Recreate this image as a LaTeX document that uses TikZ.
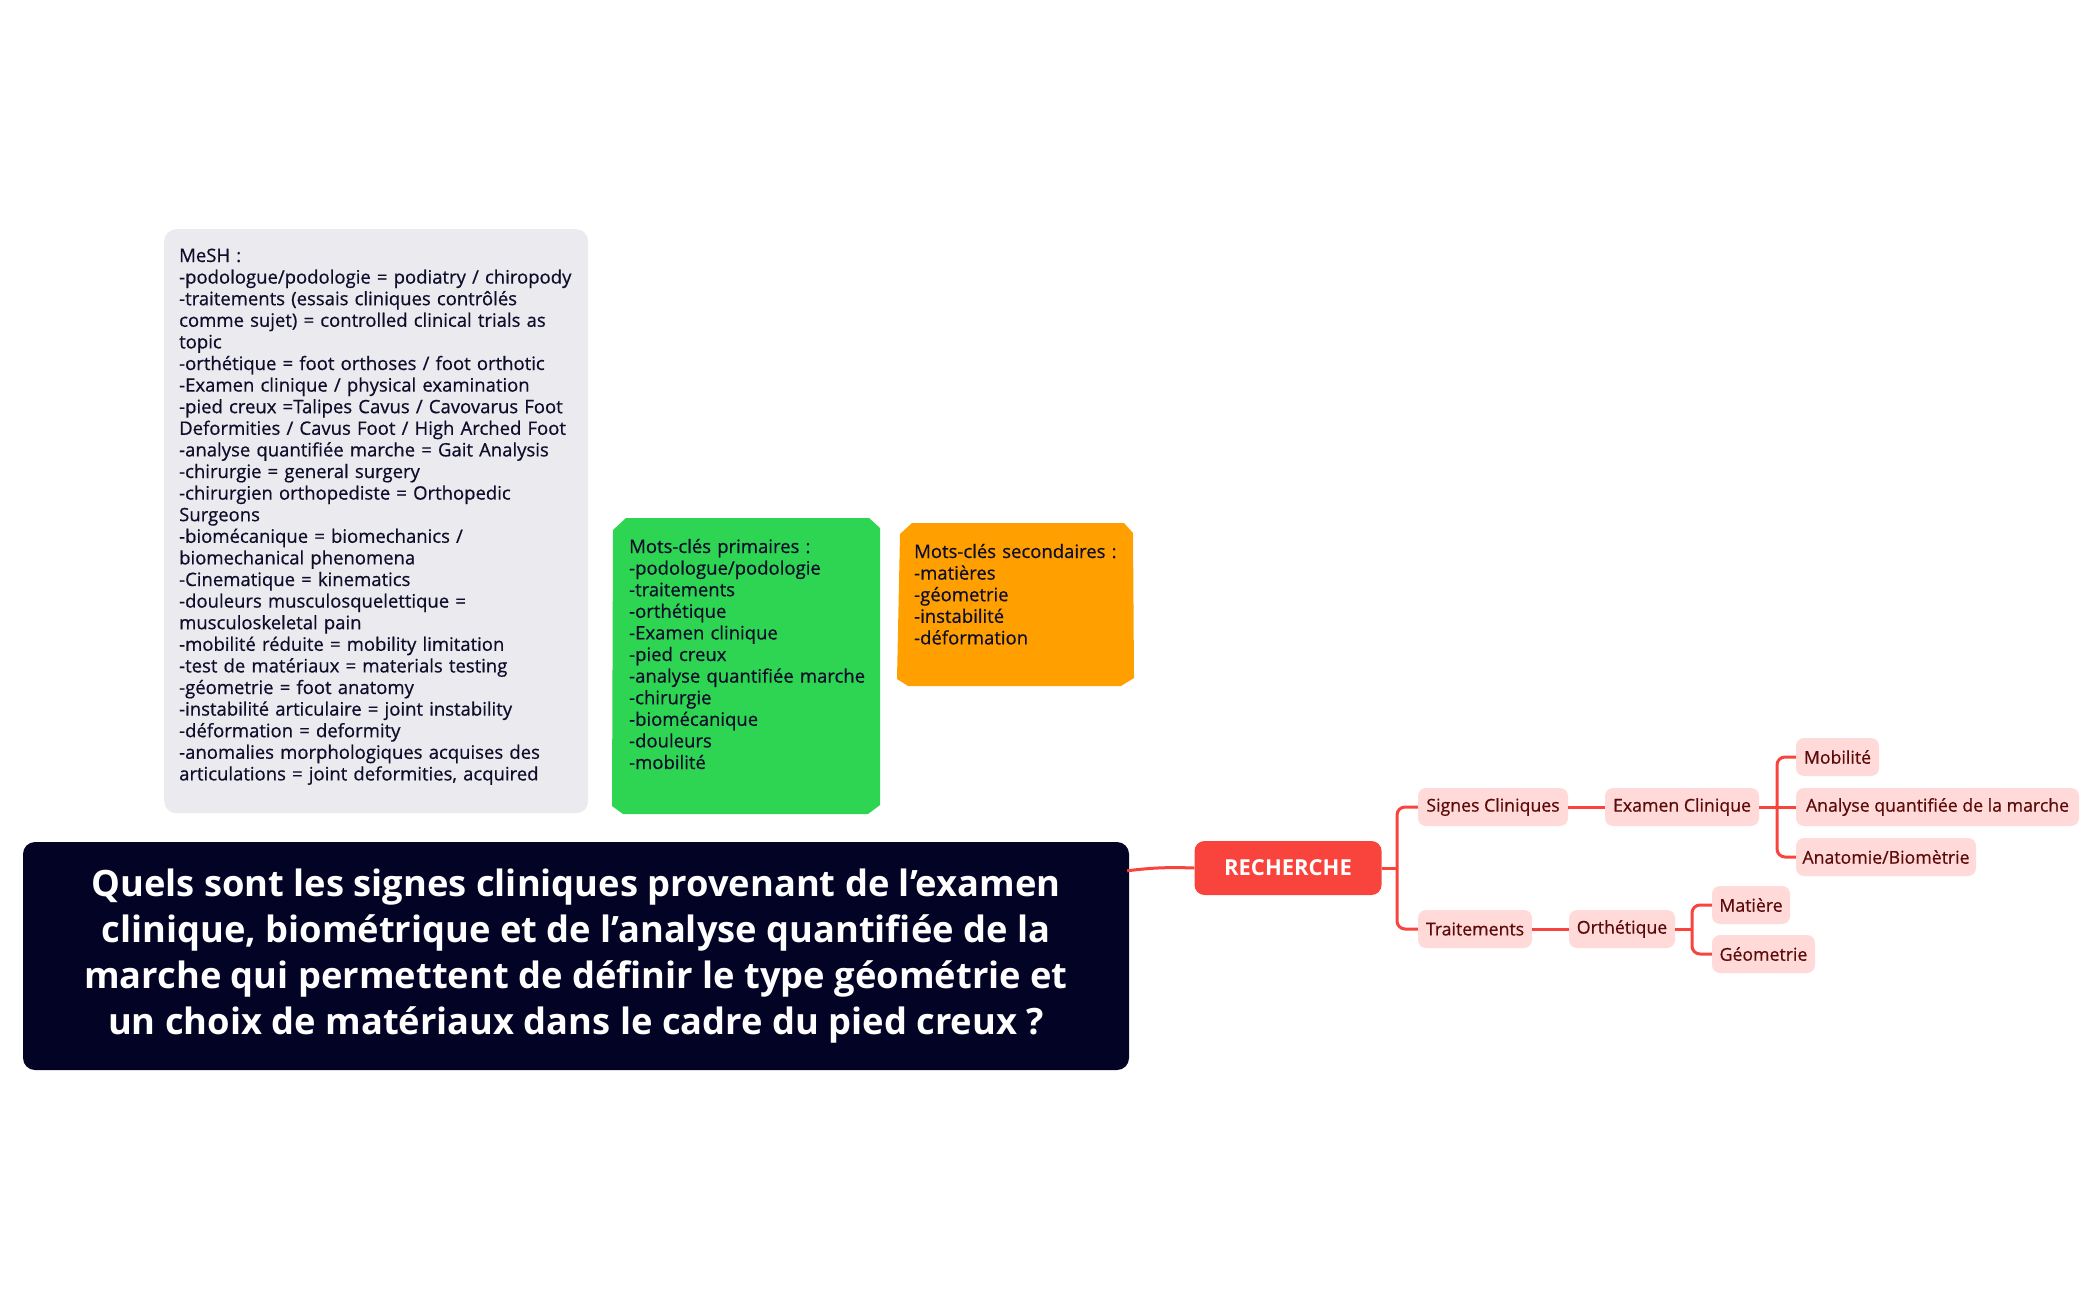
\documentclass[tikz,border=0pt]{standalone}
\usepackage{fontspec}
\setmainfont{Open Sans}
\newfontfamily\medfont{Open Sans}[FakeBold=0.6]
\usetikzlibrary{calc}
\definecolor{qnavy}{RGB}{3,3,38}
\definecolor{mmred}{RGB}{249,68,62}
\definecolor{leaffill}{RGB}{255,218,216}
\definecolor{leaftext}{RGB}{92,10,10}
\definecolor{meshgray}{RGB}{235,234,238}
\definecolor{kgreen}{RGB}{45,213,82}
\definecolor{korange}{RGB}{255,160,0}
\definecolor{boxtext}{RGB}{14,14,44}
\tikzset{
  conn/.style={draw=mmred, line width=3pt, rounded corners=8pt},
  leaf/.style={rectangle, rounded corners=8pt, fill=leaffill, text=leaftext,
    minimum height=38pt, inner xsep=6pt, inner ysep=0pt,
    font=\medfont\fontsize{17.7}{21}\selectfont},
  rootnode/.style={rectangle, rounded corners=10pt, fill=mmred, text=white,
    minimum height=54pt, minimum width=187pt, inner sep=0pt,
    font=\bfseries\fontsize{22}{27}\selectfont},
  question/.style={rectangle, rounded corners=12pt, fill=qnavy, text=white,
    minimum width=1106pt, minimum height=228pt, inner sep=0pt, align=center,
    font=\bfseries\fontsize{36.3}{46}\selectfont},
  boxtxt/.style={anchor=base west, inner sep=0pt, align=left, text=boxtext,
    font=\medfont\fontsize{18.5}{21.6}\selectfont},
}
\begin{document}
\begin{tikzpicture}[x=1pt,y=-1pt]
\useasboundingbox (0,0) rectangle (2099,1300);

% MeSH box
\node[rectangle, rounded corners=12pt, fill=meshgray, minimum width=424pt,
  minimum height=584pt, inner sep=0pt, anchor=north west] (mesh) at (164,229) {};
\node[boxtxt, text width=440pt] (meshtxt) at (179,262) {MeSH :\\
-podologue/podologie = podiatry / chiropody\\
-traitements (essais cliniques contrôlés\\
comme sujet) = controlled clinical trials as\\
topic\\
-orthétique = foot orthoses / foot orthotic\\
-Examen clinique / physical examination\\
-pied creux =Talipes Cavus / Cavovarus Foot\\
Deformities / Cavus Foot / High Arched Foot\\
-analyse quantifiée marche = Gait Analysis\\
-chirurgie = general surgery\\
-chirurgien orthopediste = Orthopedic\\
Surgeons\\
-biomécanique = biomechanics /\\
biomechanical phenomena\\
-Cinematique = kinematics\\
-douleurs musculosquelettique =\\
musculoskeletal pain\\
-mobilité réduite = mobility limitation\\
-test de matériaux = materials testing\\
-géometrie = foot anatomy\\
-instabilité articulaire = joint instability\\
-déformation = deformity\\
-anomalies morphologiques acquises des\\
articulations = joint deformities, acquired};

% primary keywords box
\fill[kgreen] (613,530) -- (626,518) -- (869,518) -- (880,528) -- (880,805)
  -- (868,814) -- (623,814) -- (612,806) -- cycle;
\node[boxtxt, text width=260pt] (prim) at (629,553) {Mots-clés primaires :\\
-podologue/podologie\\
-traitements\\
-orthétique\\
-Examen clinique\\
-pied creux\\
-analyse quantifiée marche\\
-chirurgie\\
-biomécanique\\
-douleurs\\
-mobilité};

% secondary keywords box
\fill[korange] (900,534) -- (912,523) -- (1124,523) -- (1133,533) -- (1134,678)
  -- (1121,686) -- (908,686) -- (897,679) -- cycle;
\node[boxtxt, text width=230pt] (sec) at (914,558) {Mots-clés secondaires :\\
-matières\\
-géometrie\\
-instabilité\\
-déformation};

% question
\node[question] (q) at (576,956) {Quels sont les signes cliniques provenant de l'examen\\
clinique, biométrique et de l'analyse quantifiée de la\\
marche qui permettent de définir le type géométrie et\\
un choix de matériaux dans le cadre du pied creux ?};

% mind map
\node[rootnode] (rech) at (1288,868) {RECHERCHE};
\node[leaf, minimum width=150pt] (signes) at (1493,807) {Signes Cliniques};
\node[leaf, minimum width=154pt] (exam) at (1682,807) {Examen Clinique};
\node[leaf, minimum width=83pt] (mob) at (1837.5,757) {Mobilité};
\node[leaf, minimum width=283pt] (ana) at (1937.5,807) {Analyse quantifiée de la marche};
\node[leaf, minimum width=180pt] (anat) at (1886,857) {Anatomie/Biomètrie};
\node[leaf, minimum width=114pt] (trait) at (1475,929) {Traitements};
\node[leaf, minimum width=106pt] (orth) at (1622,929) {Orthétique};
\node[leaf, minimum width=78pt] (mat) at (1751,905) {Matière};
\node[leaf, minimum width=103pt] (geo) at (1763.5,954) {Géometrie};

\coordinate (qout) at ($(q.north east)+(-2,29)$);
\coordinate (t1) at (1397,868);
\coordinate (t2) at (1777,807);
\coordinate (t3) at (1692,929);

\draw[conn] (qout) .. controls (1150,868) and (1165,867) .. (rech.west);
\draw[conn, rounded corners=0pt] (rech.east) -- (t1);
\draw[conn] (t1) |- (signes.west);
\draw[conn] (t1) |- (trait.west);
\draw[conn] (signes.east) -- (exam.west);
\draw[conn] (trait.east) -- (orth.west);
\draw[conn, rounded corners=0pt] (exam.east) -- (ana.west);
\draw[conn] (t2) |- (mob.west);
\draw[conn] (t2) |- (anat.west);
\draw[conn, rounded corners=0pt] (orth.east) -- (t3);
\draw[conn] (t3) |- (mat.west);
\draw[conn] (t3) |- (geo.west);
\end{tikzpicture}
\end{document}
